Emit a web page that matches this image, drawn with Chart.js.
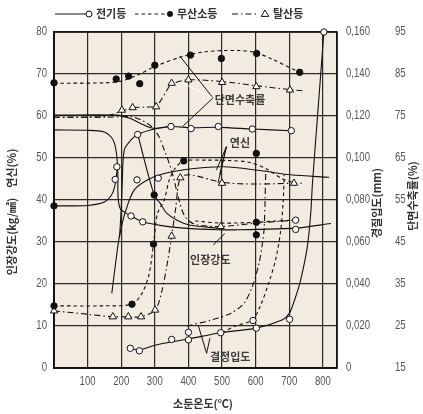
<!DOCTYPE html>
<html>
<head>
<meta charset="utf-8">
<script src="https://cdn.jsdelivr.net/npm/chart.js@4.4.0/dist/chart.umd.min.js"></script>
<style>
  html, body { margin: 0; padding: 0; background: #fff; }
</style>
</head>
<body>
<canvas id="chart" width="423" height="414"></canvas>
<script>
// temperature (°C) / value pairs

// 단면수축률 (%)  -> outer right axis
const areaO2Free = [[0,82.8],[150,82.9],[200,83.3],[250,84.8],[300,86.8],[380,89.1],[450,90.3],[550,90.6],[600,90.1],[650,88.5],[730,85.4]];
const areaO2FreePts = [[0,82.9],[185,83.8],[222,84.5],[255,82.7],[300,87.1],[406,89.5],[498,88.7],[603,89.9],[731,85.4]];
const areaDeox = [[0,74.7],[150,74.9],[202,76.2],[234,77],[270,77.1],[304,77.4],[320,79],[335,81],[350,82.6],[400,83.6],[500,83.2],[602,82.2],[702,81.3],[740,81]];
const areaDeoxPts = [[202,76.4],[234,77],[304,77.2],[350,82.8],[400,83.6],[500,83],[602,82],[702,81.2]];
const areaElec = [[195,46],[200,53],[203,59],[209,66.9],[229,69.3],[249,70.6],[299,71.9],[348,72.5],[408,72.2],[489,72.3],[590,71.9],[706,71.5]];
const areaElecCold = [[0,75.2],[187,75.2],[227,74.4],[266,72.9],[296,72.1],[348,72.5]];
const areaElecPts = [[249,70.6],[348,72.5],[408,72],[489,72.5],[590,71.9],[706,71.5]];

// 연신 (%)  -> left axis
const elongElec = [[172,17.8],[185,26],[195,31.5],[214,37.6],[239,42.4],[279,44.8],[328,46.3],[418,47.5],[505,47.9],[605,47.1],[704,46],[819,45.4]];
const elongElecPts = [[182,44.9],[187,47.9],[247,44.8],[310,45.2]];
const elongO2Free = [[0,14.8],[150,14.8],[232,15.2],[260,17.5],[282,22],[296,29.5],[308,36.8],[328,40],[343,44.8],[360,47.5],[386,49.3],[450,49.5],[520,49.4],[580,49],[630,47.5],[680,45],[720,44]];
const elongO2FreePts = [[0,14.8],[232,15.2],[296,29.5],[386,49.3],[602,51.1]];
const elongDeox = [[0,13.6],[100,12.8],[175,12.2],[221,12.2],[259,12.2],[301,13.8],[320,18],[335,24],[350,31.4],[362,38],[376,45.3],[406,46],[500,44.2],[600,43.8],[714,44],[740,44]];
const elongDeoxPts = [[0,13.6],[175,12.2],[221,12.2],[259,12.2],[301,13.8],[350,31.4],[376,45.3],[500,44],[714,44]];

// 인장강도 (kg/㎟)  -> left axis
const strengthElec = [[0,56.7],[100,56.6],[150,56.2],[170,55],[180,53.5],[186,51],[189,48],[190,45],[190,42],[192,39.5],[198,37.8],[212,37],[229,36.2],[264,34.8],[320,33.9],[386,33.3],[486,32.9],[545,32.9],[602,33],[719,33.3],[824,34.4]];
const strengthElecPts = [[229,36.2],[264,34.8],[719,35.2],[719,33]];
const strengthO2Free = [[0,38.6],[100,38.7],[150,39.5],[170,41],[180,43],[186,46],[189,48]];
const strengthDrop = [[249,55.6],[298,41.2],[316,39.2],[336,36.8],[366,35.2],[406,34],[486,33.3]];
const strengthO2FreeHot = [[420,35],[500,34.5],[602,34.7],[660,35],[719,35.2]];
const strengthO2FreePts = [[0,38.6],[298,41.2],[602,34.7],[602,31.7]];
const strengthDeox = [[0,59.7],[150,59.7],[230,59.8],[260,59],[290,57.5],[313,55],[328,51.9],[343,48.7],[355,45.5],[372,40],[390,36],[420,34.2],[496,33.7],[600,34.5],[720,35.2]];
const strengthDeoxPts = [[496,33.7]];

// 결정입도 (mm)  -> inner right axis
const grainElec = [[227,0.0094],[254,0.0086],[300,0.0108],[350,0.0124],[406,0.014],[496,0.0168],[602,0.019],[680,0.023],[700,0.026],[715,0.032],[734,0.042],[754,0.058],[764,0.074],[769,0.088],[786,0.124],[803,0.16]];
const grainElecPts = [[227,0.0094],[254,0.0082],[350,0.0136],[400,0.0134],[400,0.017],[496,0.0168],[602,0.019],[592,0.0226],[701,0.0232],[803,0.16]];
const grainDeox = [[395,0.02],[406,0.0204],[466,0.0228],[525,0.026],[565,0.0308],[590,0.0388],[610,0.0498],[620,0.0594],[625,0.066],[628,0.08],[630,0.094]];
const grainO2Free = [[500,0.0168],[540,0.02],[590,0.0228],[615,0.03],[640,0.041],[660,0.052],[675,0.066],[682,0.08],[685,0.092]];

const tempTicks = [100, 200, 300, 400, 500, 600, 700, 800];

const INK = '#111';
const SOLID = [];
const DASHED = [3.5, 3];
const DASHDOT = [6, 3, 1.5, 3];

function toXY(arr) {
    return arr.map(p => ({x: p[0], y: p[1]}));
}

function curve(arr, dash, axis) {
    return {
        data: toXY(arr), yAxisID: axis, showLine: true,
        borderColor: INK, borderWidth: 1.1, borderDash: dash,
        pointRadius: 0, tension: 0.3, order: 1
    };
}

function marks(arr, style, fill, axis, r) {
    return {
        data: toXY(arr), yAxisID: axis, showLine: false,
        pointStyle: style, pointRadius: r, pointBackgroundColor: fill,
        pointBorderColor: INK, pointBorderWidth: 1, clip: false, order: 0
    };
}

const notes = [
    {text: '단면수축률', x: 478, y: 63.8},
    {text: '연신', x: 523, y: 53.6},
    {text: '인장강도', x: 405, y: 25.7},
    {text: '결정입도', x: 464, y: 2.7}
];
const leaders = [
    [473, 64.3, 374, 74.3, INK], [473, 64.3, 384, 67.8, '#fff'], [473, 64.3, 384, 57.6, INK],
    [513, 52.7, 483, 47.1, INK], [513, 52.7, 493, 46, INK], [513, 52.7, 488, 44, INK],
    [474, 29.3, 508, 32, INK],
    [454, 3.5, 429, 10.2, INK], [454, 3.5, 464, 7.1, INK]
];

const KFONT = '"Noto Sans CJK KR", "Noto Sans", sans-serif';
const NFONT = '"Liberation Sans", Arial, sans-serif';

function tri(ctx, x, y, r) {
    ctx.beginPath();
    ctx.moveTo(x, y - r);
    ctx.lineTo(x + r * 0.95, y + r * 0.6);
    ctx.lineTo(x - r * 0.95, y + r * 0.6);
    ctx.closePath();
    ctx.fillStyle = '#fff';
    ctx.fill();
    ctx.stroke();
}

// tick labels in a squeezed face, placed from the chart's own scales
function squeezed(ctx, text, x, y, align) {
    ctx.save();
    ctx.translate(x, y);
    ctx.scale(0.8, 1);
    ctx.textAlign = align;
    ctx.fillText(text, 0, 0);
    ctx.restore();
}

const deco = {
    id: 'deco',
    beforeDraw(chart) {
        const {ctx, chartArea: a} = chart;
        ctx.save();
        ctx.fillStyle = '#fff';
        ctx.fillRect(0, 0, chart.width, chart.height);
        ctx.fillStyle = '#f2ebe0';
        ctx.fillRect(a.left, a.top, a.right - a.left, a.bottom - a.top);
        ctx.restore();
    },
    beforeDatasetsDraw(chart) {
        const {ctx, chartArea: a} = chart;
        ctx.save();
        ctx.strokeStyle = INK;
        ctx.lineWidth = 1.6;
        ctx.strokeRect(a.left, a.top, a.right - a.left, a.bottom - a.top);
        ctx.restore();
    },
    afterDatasetsDraw(chart) {
        const {ctx} = chart;
        const xs = chart.scales.x, ys = chart.scales.y;
        ctx.save();
        ctx.lineWidth = 1;
        leaders.forEach(l => {
            ctx.strokeStyle = l[4];
            ctx.beginPath();
            ctx.moveTo(xs.getPixelForValue(l[0]), ys.getPixelForValue(l[1]));
            ctx.lineTo(xs.getPixelForValue(l[2]), ys.getPixelForValue(l[3]));
            ctx.stroke();
        });
        ctx.font = 'bold 11px ' + KFONT;
        ctx.fillStyle = '#3c3c3c';
        ctx.textBaseline = 'middle';
        ctx.textAlign = 'left';
        notes.forEach(n => {
            ctx.fillText(n.text, xs.getPixelForValue(n.x), ys.getPixelForValue(n.y));
        });
        ctx.restore();
    },
    afterDraw(chart) {
        const {ctx, chartArea: a} = chart;
        const s = chart.scales;
        ctx.save();

        // tick labels
        ctx.font = '12px ' + NFONT;
        ctx.fillStyle = '#555';
        ctx.textBaseline = 'middle';
        tempTicks.forEach(v => squeezed(ctx, String(v), s.x.getPixelForValue(v), a.bottom + 14, 'center'));
        s.y.ticks.forEach(t => squeezed(ctx, String(t.value), a.left - 7, s.y.getPixelForValue(t.value), 'right'));
        s.yGrain.ticks.forEach(t => {
            const txt = t.value === 0 ? '0' : t.value.toFixed(3).replace('.', ',');
            squeezed(ctx, txt, a.right + 9, s.yGrain.getPixelForValue(t.value), 'left');
        });
        s.yArea.ticks.forEach(t => squeezed(ctx, String(t.value), a.right + 58, s.yArea.getPixelForValue(t.value), 'left'));

        // legend
        const y = 14;
        ctx.strokeStyle = INK;
        ctx.lineWidth = 1;
        ctx.setLineDash(SOLID);
        ctx.beginPath(); ctx.moveTo(55, y); ctx.lineTo(86, y); ctx.stroke();
        ctx.beginPath(); ctx.arc(89, y, 3, 0, Math.PI * 2); ctx.fillStyle = '#fff'; ctx.fill(); ctx.stroke();
        ctx.setLineDash(DASHED);
        ctx.beginPath(); ctx.moveTo(135, y); ctx.lineTo(166, y); ctx.stroke();
        ctx.setLineDash(SOLID);
        ctx.beginPath(); ctx.arc(170, y, 3, 0, Math.PI * 2); ctx.fillStyle = INK; ctx.fill();
        ctx.setLineDash(DASHDOT);
        ctx.beginPath(); ctx.moveTo(232, y); ctx.lineTo(259, y); ctx.stroke();
        ctx.setLineDash(SOLID);
        tri(ctx, 265, y, 4);
        ctx.fillStyle = '#333';
        ctx.font = 'bold 11px ' + KFONT;
        ctx.textBaseline = 'middle';
        ctx.textAlign = 'left';
        ctx.fillText('전기등', 96, y);
        ctx.fillText('무산소등', 177, y);
        ctx.fillText('탈산등', 273, y);

        // axis titles
        ctx.textAlign = 'center';
        ctx.fillText('소둔온도(℃)', 203, 404);
        const vtitle = (text, x, yy) => {
            ctx.save();
            ctx.translate(x, yy);
            ctx.rotate(-Math.PI / 2);
            ctx.fillText(text, 0, 0);
            ctx.restore();
        };
        vtitle('인장강도(kg/㎟)    연신(%)', 12, 212);
        vtitle('경질입도(mm)', 377, 203);
        vtitle('단면수축률(%)', 413, 196);
        ctx.restore();
    }
};

const gridColor = '#2a2a2a';

new Chart(document.getElementById('chart'), {
    type: 'scatter',
    data: {
        datasets: [
            marks(areaElecPts, 'circle', '#fff', 'yArea', 3.2),
            marks(elongElecPts, 'circle', '#fff', 'y', 3.2),
            marks(strengthElecPts, 'circle', '#fff', 'y', 3.2),
            marks(grainElecPts, 'circle', '#fff', 'yGrain', 3.2),
            marks(areaO2FreePts, 'circle', INK, 'yArea', 3.2),
            marks(elongO2FreePts, 'circle', INK, 'y', 3.2),
            marks(strengthO2FreePts, 'circle', INK, 'y', 3.2),
            marks(areaDeoxPts, 'triangle', '#fff', 'yArea', 4.2),
            marks(elongDeoxPts, 'triangle', '#fff', 'y', 4.2),
            marks(strengthDeoxPts, 'triangle', '#fff', 'y', 4.2),
            curve(areaElec, SOLID, 'yArea'),
            curve(areaElecCold, SOLID, 'yArea'),
            curve(elongElec, SOLID, 'y'),
            curve(strengthElec, SOLID, 'y'),
            curve(strengthO2Free, SOLID, 'y'),
            curve(strengthDrop, SOLID, 'y'),
            curve(grainElec, SOLID, 'yGrain'),
            curve(areaO2Free, DASHED, 'yArea'),
            curve(elongO2Free, DASHED, 'y'),
            curve(strengthO2FreeHot, DASHED, 'y'),
            curve(grainO2Free, DASHED, 'yGrain'),
            curve(areaDeox, DASHDOT, 'yArea'),
            curve(elongDeox, DASHDOT, 'y'),
            curve(strengthDeox, DASHDOT, 'y'),
            curve(grainDeox, DASHDOT, 'yGrain')
        ]
    },
    options: {
        responsive: false,
        animation: false,
        devicePixelRatio: 1,
        layout: {padding: {top: 32, right: 3, left: 0, bottom: 0}},
        plugins: {legend: {display: false}, tooltip: {enabled: false}},
        scales: {
            x: {
                type: 'linear', min: 0, max: 842,
                afterFit: s => { s.height = 46; },
                afterBuildTicks: s => { s.ticks = [0].concat(tempTicks).concat([842]).map(v => ({value: v})); },
                grid: {color: gridColor, lineWidth: 1.2, drawTicks: false},
                border: {color: INK, width: 1.8},
                ticks: {display: false}
            },
            y: {
                position: 'left', min: 0, max: 80,
                afterFit: s => { s.width = 54; },
                grid: {color: gridColor, lineWidth: 1.2, drawTicks: false},
                border: {color: INK, width: 1.8},
                ticks: {stepSize: 10, display: false}
            },
            yGrain: {
                position: 'right', min: 0, max: 0.16, weight: 0,
                afterFit: s => { s.width = 48; },
                grid: {display: false, drawTicks: false}, border: {display: false},
                ticks: {stepSize: 0.02, display: false}
            },
            yArea: {
                position: 'right', min: 15, max: 95, weight: 1,
                afterFit: s => { s.width = 35; },
                grid: {display: false, drawTicks: false}, border: {display: false},
                ticks: {stepSize: 10, display: false}
            }
        }
    },
    plugins: [deco]
});
</script>
</body>
</html>
